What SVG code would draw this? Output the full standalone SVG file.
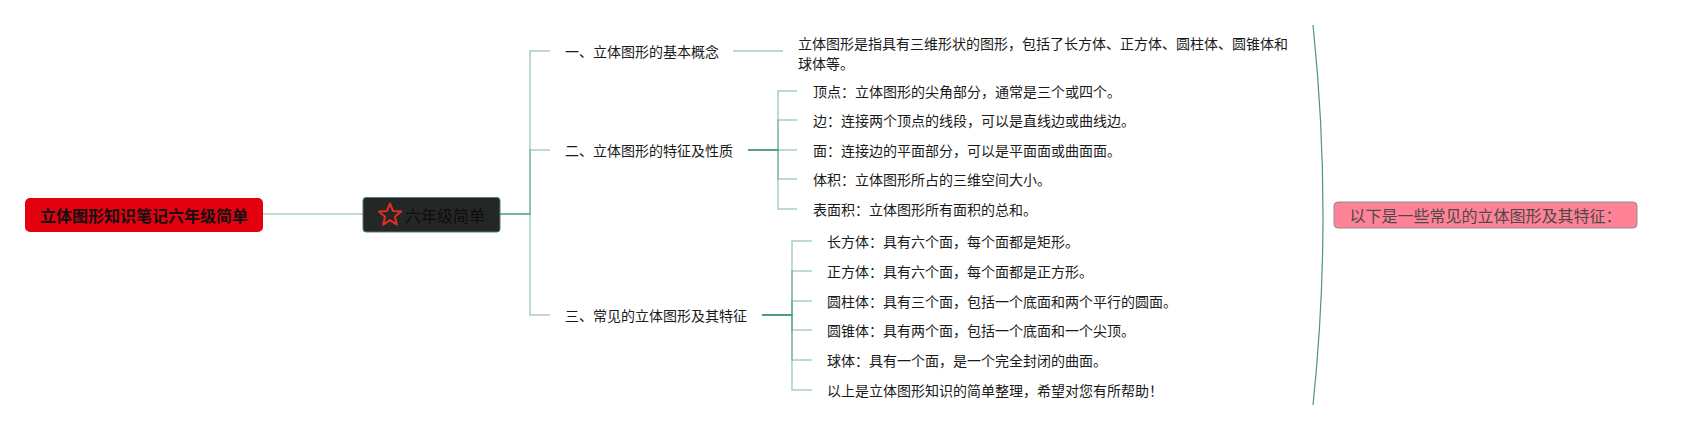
<svg xmlns="http://www.w3.org/2000/svg" width="1682" height="430" viewBox="0 0 1682 430">
<style>
  .t{font-family:"Noto Sans CJK SC","Noto Sans",sans-serif;font-size:14px;fill:#1a1a1a;dominant-baseline:central}
  .c{fill:none;stroke:#3e9478;stroke-opacity:.45;stroke-width:1.5}
</style>
<rect width="1682" height="430" fill="#ffffff"/>
<g id="connectors">
  <path class="c" d="M263 214H363"/>
  <path class="c" d="M500 214H530V51H550"/>
  <path class="c" d="M500 214H530V150H550"/>
  <path class="c" d="M500 214H530V315H550"/>
  <path class="c" d="M733 51H783"/>
  <path class="c" d="M748 150H778V91H797"/>
  <path class="c" d="M748 150H778V120H797"/>
  <path class="c" d="M748 150H778V150H797"/>
  <path class="c" d="M748 150H778V179H797"/>
  <path class="c" d="M748 150H778V209H797"/>
  <path class="c" d="M762 315H792V241H812"/>
  <path class="c" d="M762 315H792V271H812"/>
  <path class="c" d="M762 315H792V301H812"/>
  <path class="c" d="M762 315H792V330H812"/>
  <path class="c" d="M762 315H792V360H812"/>
  <path class="c" d="M762 315H792V390H812"/>
  <path d="M1313 25Q1333 215 1313 405" fill="none" stroke="#4f9580" stroke-width="1.2"/>
</g>
<g id="root">
  <rect x="25" y="198" width="238" height="34" rx="5" fill="#e3000f"/>
  <text class="t" x="144" y="215" text-anchor="middle" style="font-size:16px;font-weight:bold;fill:#111">立体图形知识笔记六年级简单</text>
</g>
<g id="sub">
  <rect x="363" y="197.5" width="137" height="34.5" rx="3" fill="#252626" stroke="#4f7f70" stroke-width="1"/>
  <path d="M390 203.5L393.1 211.1L401.1 211.6L394.9 216.7L396.9 224.6L390 220.2L383.1 224.6L385.1 216.7L378.9 211.6L386.9 211.1Z" fill="none" stroke="#e0301e" stroke-width="2" stroke-linejoin="round"/>
  <text class="t" x="405" y="215" style="font-size:16px;fill:#0d0d0d">六年级简单</text>
</g>
<g id="s1">
  <text class="t" x="565" y="51">一、立体图形的基本概念</text>
</g>
<g id="s1d">
  <text class="t" x="798" y="43">立体图形是指具有三维形状的图形，包括了长方体、正方体、圆柱体、圆锥体和</text>
  <text class="t" x="798" y="63">球体等。</text>
</g>
<g id="s2">
  <text class="t" x="565" y="150">二、立体图形的特征及性质</text>
</g>
<g id="s2i1"><text class="t" x="813" y="91">顶点：立体图形的尖角部分，通常是三个或四个。</text></g>
<g id="s2i2"><text class="t" x="813" y="120">边：连接两个顶点的线段，可以是直线边或曲线边。</text></g>
<g id="s2i3"><text class="t" x="813" y="150">面：连接边的平面部分，可以是平面面或曲面面。</text></g>
<g id="s2i4"><text class="t" x="813" y="179">体积：立体图形所占的三维空间大小。</text></g>
<g id="s2i5"><text class="t" x="813" y="209">表面积：立体图形所有面积的总和。</text></g>
<g id="s3">
  <text class="t" x="565" y="315">三、常见的立体图形及其特征</text>
</g>
<g id="s3i1"><text class="t" x="827" y="241">长方体：具有六个面，每个面都是矩形。</text></g>
<g id="s3i2"><text class="t" x="827" y="271">正方体：具有六个面，每个面都是正方形。</text></g>
<g id="s3i3"><text class="t" x="827" y="301">圆柱体：具有三个面，包括一个底面和两个平行的圆面。</text></g>
<g id="s3i4"><text class="t" x="827" y="330">圆锥体：具有两个面，包括一个底面和一个尖顶。</text></g>
<g id="s3i5"><text class="t" x="827" y="360">球体：具有一个面，是一个完全封闭的曲面。</text></g>
<g id="s3i6"><text class="t" x="827" y="390">以上是立体图形知识的简单整理，希望对您有所帮助！</text></g>
<g id="summary">
  <rect x="1334" y="202" width="303" height="26" rx="4" fill="#ff8296" stroke="#8c8c8c" stroke-width="1"/>
  <text class="t" x="1485.5" y="215" text-anchor="middle" style="font-size:16px;fill:#4a4a4a">以下是一些常见的立体图形及其特征：</text>
</g>
</svg>
